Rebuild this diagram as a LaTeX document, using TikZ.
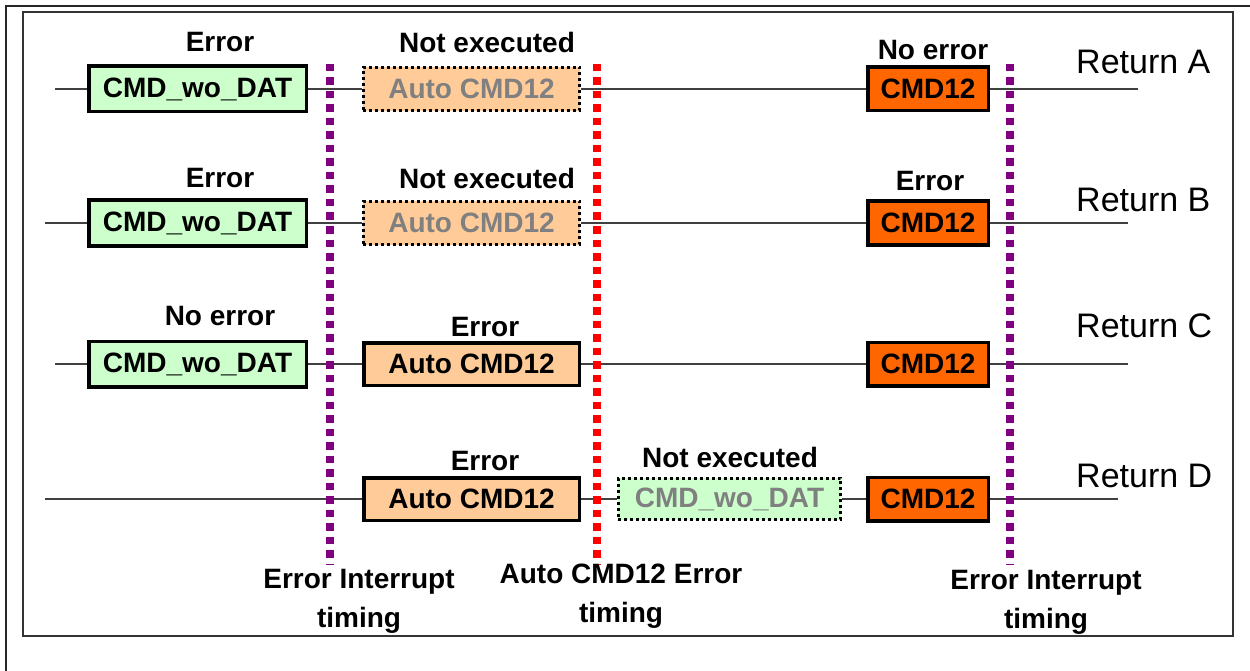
\documentclass[tikz,border=0pt]{standalone}
\usepackage{fontspec}
\setmainfont{Liberation Sans}
\usetikzlibrary{positioning}
\definecolor{wogreen}{HTML}{CCFFCC}
\definecolor{autoorange}{HTML}{FFCC99}
\definecolor{cmdorange}{HTML}{FF6600}
\definecolor{irqpurple}{HTML}{800080}
\definecolor{wiregray}{HTML}{404040}
\definecolor{skipgray}{HTML}{808080}

\begin{document}
\begin{tikzpicture}[
  x=1pt, y=-1pt,
  every node/.style={align=center, inner sep=0pt},
  lbl/.style   ={font=\fontsize{28}{39}\selectfont\bfseries},
  ret/.style   ={anchor=west, font=\fontsize{34}{40}\selectfont},
  cmdwo/.style ={draw, line width=3.5pt, fill=wogreen,
                 minimum width=217.5pt, minimum height=45.5pt, lbl},
  autocmd/.style={draw, line width=3.5pt, fill=autoorange,
                 minimum width=215.5pt, minimum height=42.5pt, lbl},
  cmdtwelve/.style={draw, line width=3.5pt, fill=cmdorange,
                 minimum width=120.5pt, minimum height=43.5pt, lbl},
  skipped/.style={draw, line width=2.8pt, dash pattern=on 2.8pt off 3.2pt,
                 text=skipgray, lbl},
  wire/.style  ={draw=wiregray, line width=2pt},
  timing/.style={line width=8pt, dash pattern=on 7.5pt off 6pt},
]
\useasboundingbox (0,0) rectangle (1250,671);
% ---- frames ----------------------------------------------------------------
\draw[line width=2.5pt, draw=black!85] (6,671) |- (1250,6);
\draw[line width=2pt, draw=black!80] (23,12) rectangle (1233,636);

% ---- Row A ------------------------------------------------------------------
\coordinate (startA) at (55,89);
\coordinate (endA)   at (1138,89);
\node[cmdwo]                          (woA) at (197.5,89) {CMD\_wo\_DAT};
\node[skipped, fill=autoorange, minimum width=216.5pt, minimum height=43.5pt]
                                      (acA) at (471.5,89) {Auto CMD12};
\node[cmdtwelve]                      (cmA) at (928,89)   {CMD12};
\node[lbl] (woAlbl) at (220,42) {Error};
\node[lbl] (acAlbl) at (487,42) {Not executed};
\node[lbl] (cmAlbl) at (933,50) {No error};
\node[ret] (retA)   at (1076,62) {Return A};
\draw[wire] (startA) -- (woA);
\draw[wire] (woA) -- (acA);
\draw[wire] (acA) -- (cmA);
\draw[wire] (cmA) -- (endA);

% ---- Row B ------------------------------------------------------------------
\coordinate (startB) at (45,223);
\coordinate (endB)   at (1128,223);
\node[cmdwo]                          (woB) at (197.5,223) {CMD\_wo\_DAT};
\node[skipped, fill=autoorange, minimum width=216.5pt, minimum height=43.5pt]
                                      (acB) at (471.5,223) {Auto CMD12};
\node[cmdtwelve]                      (cmB) at (928,223)   {CMD12};
\node[lbl] (woBlbl) at (220,178) {Error};
\node[lbl] (acBlbl) at (487,178) {Not executed};
\node[lbl] (cmBlbl) at (930,181) {Error};
\node[ret] (retB)   at (1076,200) {Return B};
\draw[wire] (startB) -- (woB);
\draw[wire] (woB) -- (acB);
\draw[wire] (acB) -- (cmB);
\draw[wire] (cmB) -- (endB);

% ---- Row C ------------------------------------------------------------------
\coordinate (startC) at (55,364);
\coordinate (endC)   at (1128,364);
\node[cmdwo]     (woC) at (197.5,364) {CMD\_wo\_DAT};
\node[autocmd]   (acC) at (471.5,364) {Auto CMD12};
\node[cmdtwelve] (cmC) at (928,364)   {CMD12};
\node[lbl] (woClbl) at (220,316) {No error};
\node[lbl] (acClbl) at (485,327) {Error};
\node[ret] (retC)   at (1076,326) {Return C};
\draw[wire] (startC) -- (woC);
\draw[wire] (woC) -- (acC);
\draw[wire] (acC) -- (cmC);
\draw[wire] (cmC) -- (endC);

% ---- Row D ------------------------------------------------------------------
\coordinate (startD) at (45,499);
\coordinate (endD)   at (1118,499);
\node[autocmd]   (acD) at (471.5,499) {Auto CMD12};
\node[skipped, fill=wogreen, minimum width=222.5pt, minimum height=41.5pt]
                 (woD) at (729.5,499) {CMD\_wo\_DAT};
\node[cmdtwelve] (cmD) at (928,499)   {CMD12};
\node[lbl] (acDlbl) at (485,461) {Error};
\node[lbl] (woDlbl) at (730,457) {Not executed};
\node[ret] (retD)   at (1076,476) {Return D};
\draw[wire] (startD) -- (acD);
\draw[wire] (acD) -- (woD);
\draw[wire] (woD) -- (cmD);
\draw[wire] (cmD) -- (endD);

% ---- timing markers -----------------------------------------------------------
\coordinate (irqAtop) at (330,64);   \coordinate (irqAbot) at (330,565);
\coordinate (acerrtop) at (597,64);  \coordinate (acerrbot) at (597,565);
\coordinate (irqBtop) at (1010,64);  \coordinate (irqBbot) at (1010,565);
\draw[timing, draw=irqpurple] (irqAtop) -- (irqAbot);
\draw[timing, draw=red]       (acerrtop) -- (acerrbot);
\draw[timing, draw=irqpurple] (irqBtop) -- (irqBbot);
\node[lbl] (irqAlbl)  at (359,601) {Error Interrupt\\timing};
\node[lbl] (acerrlbl) at (621,596) {Auto CMD12 Error\\timing};
\node[lbl] (irqBlbl)  at (1046,602) {Error Interrupt\\timing};
\end{tikzpicture}
\end{document}
